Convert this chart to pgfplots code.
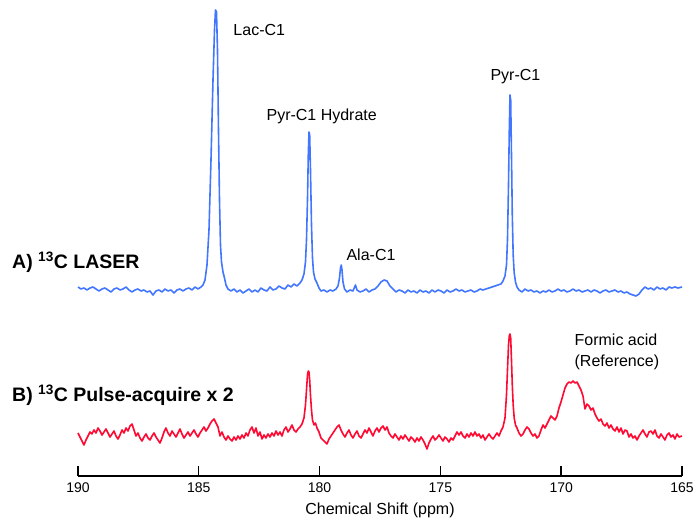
\documentclass[border=0pt]{standalone}
\usepackage{fontspec}
\setmainfont{Liberation Sans}
\usepackage{pgfplots}
\pgfplotsset{compat=1.18}
\usepackage{pgfplotstable}
\definecolor{laserblue}{RGB}{66,118,255}
\definecolor{pulsered}{RGB}{255,10,50}
\pgfplotstableread{
x y
190.000 234
189.876 232
189.752 233
189.627 231
189.503 233
189.379 234
189.255 232
189.131 230
189.007 232
188.882 233
188.758 231
188.634 229
188.510 232
188.386 233
188.262 231
188.137 232
188.013 234
187.889 231
187.765 229
187.641 231
187.517 232
187.392 230
187.268 231
187.144 229
187.020 230
186.896 226
186.772 230
186.647 231
186.523 229
186.399 232
186.275 230
186.151 231
186.026 228
185.902 231
185.778 232
185.654 230
185.530 232
185.406 233
185.281 231
185.157 234
185.033 232
184.909 234
184.826 236
184.743 241
184.661 256
184.578 291
184.495 361
184.412 441
184.350 491
184.309 511
184.267 509
184.226 471
184.185 391
184.143 321
184.102 276
184.060 259
183.998 249
183.936 243
183.874 236
183.791 232
183.667 230
183.543 232
183.419 229
183.295 231
183.171 228
183.046 230
182.922 232
182.798 229
182.674 231
182.550 229
182.425 233
182.301 231
182.177 230
182.053 234
181.929 231
181.805 232
181.680 235
181.556 233
181.432 232
181.308 236
181.184 234
181.060 237
180.935 235
180.811 238
180.728 241
180.646 247
180.584 259
180.542 281
180.501 321
180.468 366
180.439 389
180.410 386
180.377 351
180.335 296
180.294 263
180.252 249
180.190 242
180.108 238
180.025 233
179.942 230
179.818 231
179.694 229
179.570 231
179.445 230
179.321 232
179.238 235
179.176 243
179.135 253
179.102 256
179.073 251
179.031 239
178.969 232
178.866 229
178.742 231
178.618 230
178.514 236
178.452 231
178.328 229
178.204 230
178.079 232
177.955 229
177.831 231
177.707 232
177.583 235
177.459 239
177.334 241
177.210 240
177.086 235
176.962 232
176.838 229
176.714 231
176.589 230
176.465 228
176.341 231
176.217 229
176.093 230
175.969 228
175.844 231
175.720 229
175.596 230
175.472 228
175.348 231
175.224 229
175.099 231
174.975 230
174.851 228
174.727 231
174.603 229
174.478 230
174.354 232
174.230 230
174.106 231
173.982 229
173.858 230
173.733 231
173.609 229
173.485 230
173.361 232
173.237 231
173.113 232
172.988 233
172.864 234
172.740 235
172.616 236
172.492 237
172.409 240
172.326 245
172.264 256
172.223 281
172.181 336
172.148 391
172.119 426
172.090 421
172.057 366
172.024 306
171.987 266
171.945 248
171.891 239
171.829 234
171.747 231
171.623 229
171.498 232
171.374 230
171.250 231
171.126 229
171.002 230
170.877 228
170.753 230
170.629 229
170.505 231
170.381 229
170.257 230
170.132 232
170.008 230
169.884 231
169.760 229
169.636 230
169.512 232
169.387 230
169.263 231
169.139 229
169.015 230
168.891 231
168.767 229
168.642 231
168.518 230
168.394 228
168.270 230
168.146 231
168.022 229
167.897 230
167.773 231
167.649 229
167.525 230
167.401 228
167.276 229
167.152 227
167.028 226
166.904 225
166.780 227
166.656 231
166.531 234
166.407 232
166.283 233
166.159 231
166.035 234
165.911 232
165.786 233
165.662 231
165.538 234
165.414 233
165.290 234
165.166 233
165.000 234
}\laser
\pgfplotstableread{
x y
190.000 88
189.917 84
189.834 80
189.752 76
189.669 81
189.586 85
189.503 89
189.421 87
189.338 91
189.255 88
189.172 93
189.089 90
189.007 86
188.924 89
188.841 92
188.758 88
188.675 84
188.593 87
188.510 90
188.427 85
188.344 82
188.262 86
188.179 91
188.096 88
188.013 93
187.930 90
187.848 95
187.765 97
187.682 91
187.599 85
187.517 88
187.434 83
187.351 80
187.268 84
187.185 87
187.103 83
187.020 81
186.937 85
186.854 88
186.772 84
186.689 81
186.606 78
186.523 83
186.440 89
186.358 93
186.275 88
186.192 85
186.109 90
186.026 87
185.944 84
185.861 88
185.778 92
185.695 87
185.613 83
185.530 86
185.447 89
185.364 85
185.281 88
185.199 91
185.116 87
185.033 84
184.950 88
184.868 91
184.785 94
184.702 90
184.619 93
184.536 97
184.454 100
184.371 102
184.288 98
184.205 94
184.123 85
184.040 89
183.957 84
183.874 81
183.791 85
183.709 82
183.626 80
183.543 84
183.460 81
183.377 85
183.295 82
183.212 86
183.129 83
183.046 88
182.964 85
182.881 91
182.798 94
182.715 88
182.632 93
182.550 85
182.467 89
182.384 82
182.301 86
182.219 83
182.136 87
182.053 84
181.970 88
181.887 85
181.805 90
181.722 86
181.639 89
181.556 85
181.474 91
181.391 94
181.308 89
181.225 92
181.142 96
181.060 91
180.977 89
180.894 92
180.811 94
180.728 97
180.646 103
180.584 116
180.542 131
180.501 146
180.468 150
180.439 149
180.410 141
180.377 126
180.335 111
180.294 101
180.232 96
180.170 98
180.108 93
180.025 89
179.942 83
179.859 81
179.776 79
179.694 77
179.611 82
179.528 85
179.445 88
179.362 91
179.280 94
179.197 96
179.114 91
179.031 87
178.949 84
178.866 88
178.783 91
178.700 86
178.618 83
178.535 87
178.452 90
178.369 85
178.286 83
178.204 87
178.121 91
178.038 88
177.955 93
177.872 89
177.790 85
177.707 90
177.624 93
177.541 89
177.459 93
177.376 95
177.293 91
177.210 94
177.127 88
177.045 85
176.962 83
176.879 87
176.796 84
176.713 81
176.631 85
176.548 82
176.465 86
176.382 83
176.300 80
176.217 84
176.134 82
176.051 79
175.968 83
175.886 80
175.803 84
175.720 81
175.637 77
175.555 72
175.472 78
175.389 82
175.306 85
175.223 81
175.141 83
175.058 86
174.975 83
174.892 80
174.810 84
174.727 82
174.644 79
174.561 83
174.478 81
174.396 85
174.313 89
174.230 86
174.147 89
174.064 85
173.982 83
173.899 87
173.816 84
173.733 88
173.651 85
173.568 89
173.485 85
173.402 87
173.319 83
173.237 86
173.154 81
173.071 84
172.988 87
172.906 84
172.823 82
172.740 85
172.657 88
172.574 85
172.492 90
172.409 94
172.326 103
172.264 126
172.223 151
172.181 176
172.148 185
172.119 187
172.090 183
172.057 161
172.024 136
171.987 116
171.945 103
171.891 96
171.829 93
171.747 88
171.664 85
171.581 87
171.498 91
171.416 94
171.333 92
171.250 88
171.167 85
171.084 87
171.002 83
170.919 85
170.836 91
170.753 96
170.670 93
170.588 97
170.505 101
170.422 105
170.339 103
170.257 101
170.174 105
170.091 113
170.008 119
169.925 126
169.843 133
169.760 137
169.677 139
169.594 138
169.511 140
169.429 138
169.346 139
169.263 135
169.180 131
169.098 125
169.015 112
168.932 117
168.849 115
168.766 111
168.684 113
168.601 107
168.518 103
168.435 100
168.353 102
168.270 97
168.187 95
168.104 98
168.021 93
167.939 96
167.856 92
167.773 90
167.690 94
167.608 89
167.525 93
167.442 87
167.359 91
167.276 90
167.194 84
167.111 87
167.028 83
166.945 85
166.863 81
166.780 85
166.697 88
166.614 91
166.531 87
166.449 84
166.366 89
166.283 90
166.200 87
166.117 91
166.035 85
165.952 83
165.869 87
165.786 84
165.704 81
165.621 86
165.538 88
165.455 84
165.372 86
165.290 82
165.207 87
165.124 84
165.000 85
}\pulse
\begin{document}
\begin{tikzpicture}
\begin{axis}[
  at={(78pt,45pt)}, anchor=south west,
  scale only axis, width=604pt, height=476pt,
  xmin=165, xmax=190, ymin=45, ymax=521,
  x dir=reverse,
  axis x line=bottom, axis y line=none, ytick=\empty,
  x axis line style={-, line width=1.6pt},
  xtick={165,170,175,180,185,190},
  tick align=inside, major tick length=10pt,
  xtick style={line width=1.4pt, black},
  /pgf/number format/assume math mode=true,
  xticklabel style={font=\fontsize{14}{16}\selectfont, yshift=-3pt},
  xlabel={Chemical Shift (ppm)},
  xlabel style={font=\fontsize{16}{19}\selectfont, yshift=-4pt},
  clip=false,
]
\addplot[laserblue, line width=1.6pt, line join=round] table[x=x,y=y]{\laser};
\addplot[pulsered, line width=1.6pt, line join=round] table[x=x,y=y]{\pulse};
\node[anchor=west, font=\fontsize{16}{19}\selectfont] at (axis cs:183.71,491) {Lac-C1};
\node[anchor=west, font=\fontsize{16}{19}\selectfont] at (axis cs:182.34,405) {Pyr-C1 Hydrate};
\node[anchor=west, font=\fontsize{16}{19}\selectfont] at (axis cs:179.03,266) {Ala-C1};
\node[anchor=west, font=\fontsize{16}{19}\selectfont] at (axis cs:173.07,444) {Pyr-C1};
\node[anchor=west, font=\fontsize{16}{19}\selectfont] at (axis cs:169.59,181) {Formic acid};
\node[anchor=west, font=\fontsize{16}{19}\selectfont] at (axis cs:169.59,159) {(Reference)};
\node[anchor=base west, inner sep=0pt, font=\fontsize{19.5}{23}\selectfont\bfseries] at (axis cs:192.73,252) {A) \textsuperscript{13}C LASER};
\node[anchor=base west, inner sep=0pt, font=\fontsize{19.5}{23}\selectfont\bfseries] at (axis cs:192.73,119) {B) \textsuperscript{13}C Pulse-acquire x 2};
\end{axis}
\pgfresetboundingbox
\path[use as bounding box] (0,0) rectangle (694pt,521pt);
\end{tikzpicture}
\end{document}
